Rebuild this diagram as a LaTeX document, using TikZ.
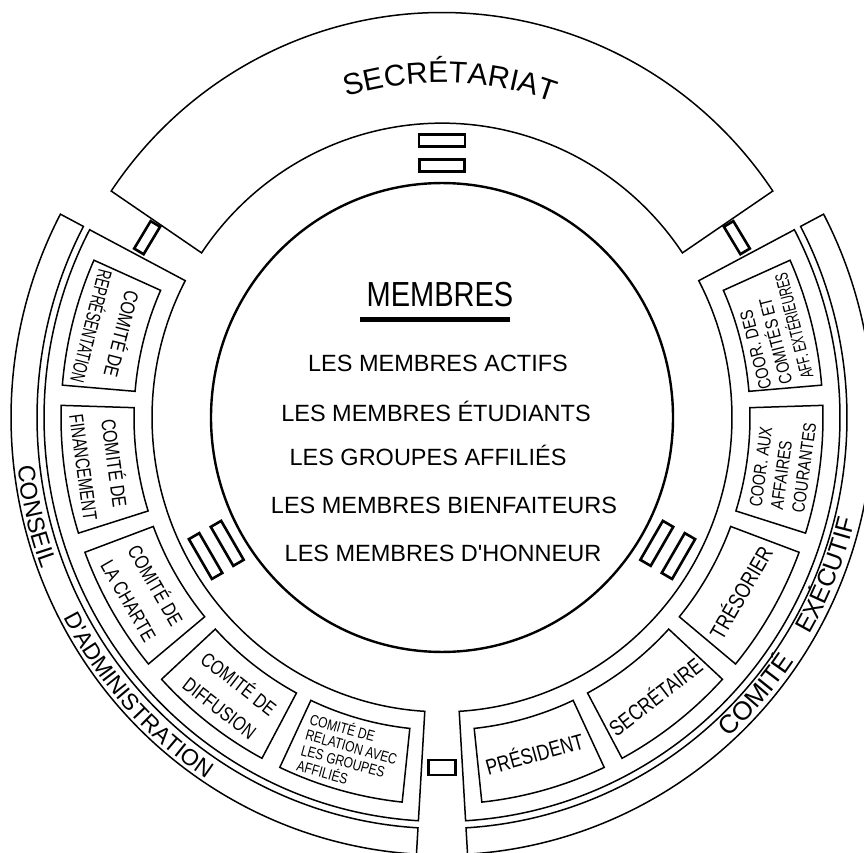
\documentclass[tikz,border=0pt]{standalone}
\usepackage{fontspec}
\newfontfamily\hand{Liberation Sans}
\newfontfamily\handn{Liberation Sans}[FakeStretch=0.8]
\usetikzlibrary{decorations.text,calc}
\newcommand\annsec[4]{\draw[ring] (#1:#3) arc[start angle=#1,end angle=#2,radius=#3] -- (#2:#4) arc[start angle=#2,end angle=#1,radius=#4] -- cycle;}
\begin{document}
\begin{tikzpicture}[x=1pt,y=1pt,
  ring/.style={line width=1.5pt},
  door/.style={draw, line width=2.6pt, rectangle, inner sep=0pt},
  boxtxt/.style={font=\handn\fontsize{20}{31}\selectfont, align=center, inner sep=0pt},
  smalltxt/.style={font=\handn\fontsize{15}{16}\selectfont, align=left, inner sep=0pt},
  cootxt/.style={font=\handn\fontsize{18}{21.5}\selectfont, align=left, inner sep=0pt},
  roletxt/.style={font=\handn\fontsize{22}{22}\selectfont, inner sep=0pt},
  memb/.style={font=\hand\fontsize{23.5}{24}\selectfont, anchor=base, inner sep=0pt}]
\useasboundingbox (0,0) rectangle (864,852);
\fill[white] (0,0) rectangle (864,852);
\clip (0,0) rectangle (864,852);
\begin{scope}[shift={(442,434.5)}, yscale=1.015]
  % central circle
  \draw[line width=2.4pt] (0,0) circle[radius=231];
  % secretariat
  \annsec{34}{146}{290}{399}
  % side panels
  \annsec{152.3}{266.6}{290}{398}
  \annsec{-86.6}{27.7}{290}{398}
  % outer bands
  \annsec{152.3}{266.6}{405}{431}
  \annsec{-86.6}{27.7}{405}{431}
  % committee boxes
  \foreach \i in {0,...,4} {
    \pgfmathsetmacro\a{156+22.2*\i}
    \pgfmathsetmacro\b{\a+19.2}
    \pgfmathsetmacro\c{180-\b}
    \pgfmathsetmacro\d{180-\a}
    \annsec{\a}{\b}{308}{381}
    \annsec{\c}{\d}{308}{381}
  }
  % double openings
  \foreach \t in {90,210,330} {
    \node[door, minimum width=46pt, minimum height=12pt, rotate=\t-90] (da\t) at (\t:273) {};
    \node[door, minimum width=45pt, minimum height=12pt, rotate=\t-90] (db\t) at (\t:248) {};
  }
  % single connectors
  \node[door, minimum width=32pt, minimum height=11pt, rotate=59] (cl) at (149:344) {};
  \node[door, minimum width=32pt, minimum height=11pt, rotate=-59] (cr) at (31:344) {};
  \node[door, minimum width=27pt, minimum height=15pt] (cb) at (270:345) {};
  % curved titles
  \path[decorate, decoration={text along path, text align=center,
    text={|\hand\fontsize{30}{30}\selectfont|SECRÉTARIAT}}]
    (120:330) arc[start angle=120, end angle=57.2, radius=330];
  \path[decorate, decoration={text along path, text align=center,
    text={|\hand\fontsize{24}{24}\selectfont|CONSEIL}}]
    (185:427) arc[start angle=185, end angle=202, radius=427];
  \path[decorate, decoration={text along path, text align=center,
    text={|\hand\fontsize{23}{23}\selectfont|D'ADMINISTRATION}}]
    (204:427) arc[start angle=204, end angle=240, radius=427];
  \path[decorate, decoration={text along path, text align=center,
    text={|\hand\fontsize{26}{26}\selectfont|COMITÉ}}]
    (310:426) arc[start angle=310, end angle=328, radius=426];
  \path[decorate, decoration={text along path, text align=center,
    text={|\hand\fontsize{25}{25}\selectfont|EXÉCUTIF}}]
    (328:425) arc[start angle=328, end angle=348, radius=425];
  % left committee texts
  \node[boxtxt, rotate=255.6] (t1) at (165.6:345) {COMITÉ DE\\\scalebox{0.8}[1]{REPRÉSENTATION}};
  \node[boxtxt, rotate=277.8] (t2) at (187.8:345) {COMITÉ DE\\\scalebox{0.92}[1]{FINANCEMENT}};
  \node[boxtxt, rotate=300] (t3) at (210:345) {COMITÉ DE\\LA CHARTE};
  \node[boxtxt, rotate=322.2] (t4) at (232.2:346) {COMITÉ DE\\DIFFUSION};
  \node[smalltxt, rotate=344.4] (t5) at (254.4:344) {COMITÉ DE\\RELATION AVEC\\LES GROUPES\\AFFILIÉS};
  % right committee texts
  \node[cootxt, rotate=104.4] (r1) at (14.4:342) {COOR. DES\\COMITÉS ET\\\scalebox{0.8}[1]{AFF. EXTÉRIEURES}};
  \node[cootxt, rotate=82.2] (r2) at (-7.8:344) {COOR. AUX\\AFFAIRES\\COURANTES};
  \node[roletxt, rotate=60] (r3) at (-30:344) {TRÉSORIER};
  \node[roletxt, rotate=37.8] (r4) at (-52.2:347) {SECRÉTAIRE};
  \node[roletxt, rotate=15.6] (r5) at (-74.4:343) {PRÉSIDENT};
\end{scope}
% members
\node[font=\hand\fontsize{29}{29}\selectfont, anchor=base, inner sep=0pt] (mem) at (440,545) {\scalebox{1}[1.2]{MEMBRES}};
\draw[line width=5pt] ($(mem.base west)+(-6,-12.5)$) -- ($(mem.base east)+(-4,-12.5)$);
\node[memb] (m1) at (438,480) {LES MEMBRES ACTIFS};
\node[memb] (m2) at (436,430) {LES MEMBRES ÉTUDIANTS};
\node[memb] (m3) at (428,386) {LES GROUPES AFFILIÉS};
\node[memb] (m4) at (444,338) {LES MEMBRES BIENFAITEURS};
\node[memb] (m5) at (443,291) {LES MEMBRES D'HONNEUR};
\end{tikzpicture}
\end{document}
